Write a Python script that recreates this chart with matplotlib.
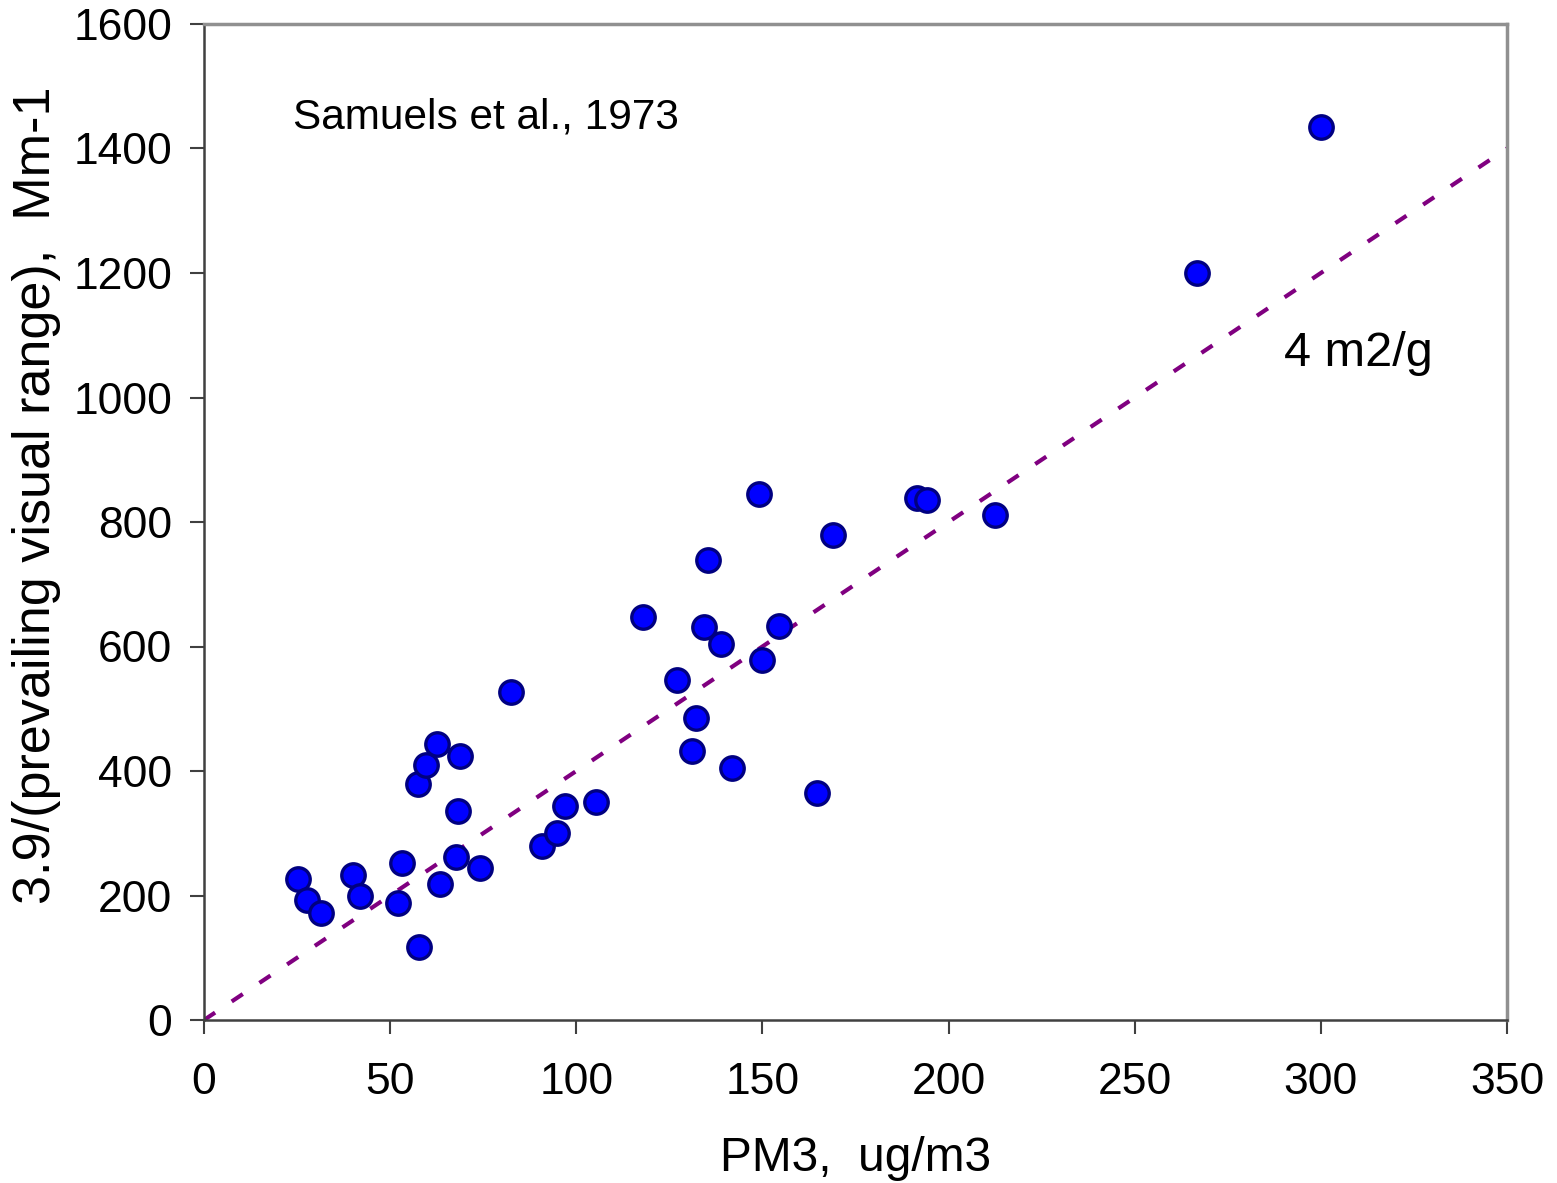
import numpy as np
import matplotlib

matplotlib.use('Agg')
import matplotlib.pyplot as plt

plt.rcParams['font.family'] = ['Liberation Sans', 'DejaVu Sans']

# PM3 (ug/m3) vs 3.9/(prevailing visual range) (Mm-1)
pm3 = [25.2, 27.7, 31.4, 40.0, 41.9, 52.1, 53.2, 57.5, 57.7, 59.6,
       62.6, 63.4, 67.7, 68.2, 68.8, 74.1, 82.5, 90.8, 94.8, 97.0,
       105.3, 117.9, 127.0, 131.1, 132.2, 134.3, 135.4, 138.9, 141.8, 149.1,
       149.9, 154.4, 164.7, 168.9, 191.5, 194.2, 212.5, 266.7, 300.0]
bext = [226, 193, 172, 233, 199, 188, 252, 379, 117, 410,
        443, 218, 262, 336, 424, 244, 527, 280, 300, 344,
        350, 647, 546, 432, 485, 631, 739, 604, 405, 845,
        578, 633, 365, 779, 839, 835, 811, 1200, 1434]

slope = 4  # m2/g
line_x = np.array([0, 350])

fig = plt.figure(figsize=(15.57, 11.83), dpi=100)
ax = fig.add_axes([204 / 1557, 1 - 1020 / 1183, 1303 / 1557, 996 / 1183])

ln, = ax.plot(line_x, slope * line_x, color='#800080', lw=3, zorder=2)
ln.set_dashes((3.2, 4.8))
ax.scatter(pm3, bext, s=285, color='#0000ff', edgecolor='#000080',
           linewidth=2.4, zorder=3, clip_on=False)

ax.set_xlim(0, 350)
ax.set_ylim(0, 1600)
ax.set_xticks(np.arange(0, 351, 50))
ax.set_yticks(np.arange(0, 1601, 200))
ax.tick_params(direction='out', length=10, width=1.5, labelsize=32,
               color='#404040')
ax.tick_params(axis='y', pad=13)
ax.tick_params(axis='x', pad=20)
for s in ['left', 'bottom']:
    ax.spines[s].set_color('#404040')
    ax.spines[s].set_linewidth(1.8)
for s in ['top', 'right']:
    ax.spines[s].set_color('#909090')
    ax.spines[s].set_linewidth(2.5)

ax.set_xlabel('PM3,  ug/m3', fontsize=34.5, labelpad=24)
ax.set_ylabel('3.9/(prevailing visual range),  Mm-1', fontsize=37.5)
ax.yaxis.set_label_coords(-0.11, 0.527)
ax.text(24, 1450, 'Samuels et al., 1973', fontsize=30.5, va='center')
ax.text(290, 1070, '4 m2/g', fontsize=35, va='center')

fig.savefig('out.png', dpi=100)
